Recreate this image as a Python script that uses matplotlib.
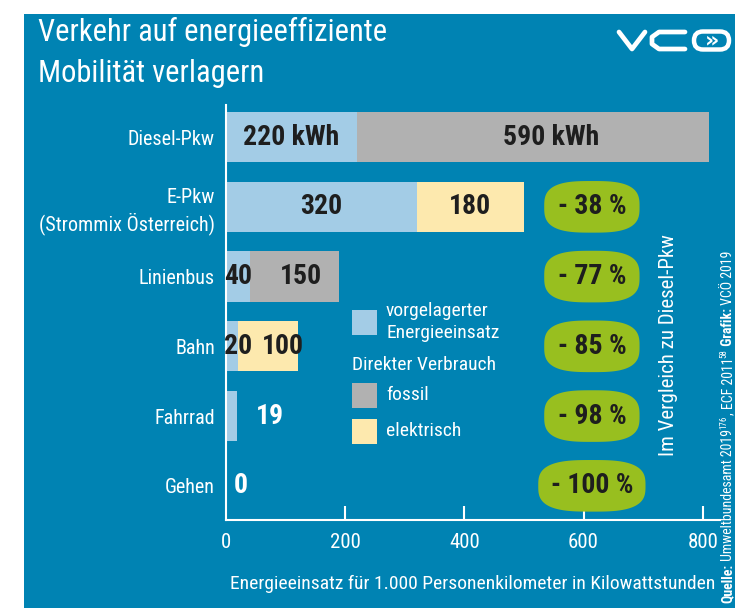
import matplotlib
matplotlib.use("Agg")
import matplotlib.pyplot as plt
from matplotlib import font_manager as fm
from matplotlib.patches import Rectangle, Polygon, FancyBboxPatch
import numpy as np

# ---------------- data ----------------
categories = ["Diesel-Pkw", "E-Pkw\n(Strommix Österreich)", "Linienbus", "Bahn", "Fahrrad", "Gehen"]
upstream = [220, 320, 40, 20, 19, 0]          # vorgelagerter Energieeinsatz
fossil = [590, 0, 150, 0, 0, 0]               # direkter Verbrauch fossil
electric = [0, 180, 0, 100, 0, 0]             # direkter Verbrauch elektrisch
upstream_labels = ["220 kWh", "320", "40", "20", "19", "0"]
fossil_labels = ["590 kWh", "", "150", "", "", ""]
electric_labels = ["", "180", "", "100", "", ""]
reduction = [None, "- 38 %", "- 77 %", "- 85 %", "- 98 %", "- 100 %"]
xticks = [0, 200, 400, 600, 800]

title = "Verkehr auf energieeffiziente\nMobilität verlagern"
xlabel = "Energieeinsatz für 1.000 Personenkilometer in Kilowattstunden"
side_label = "Im Vergleich zu Diesel-Pkw"
source_parts = [("Quelle:", "bold", False), (" Umweltbundesamt 2019", "normal", False),
                ("176", "normal", True), (", ECF 2011", "normal", False),
                ("58", "normal", True), (" Grafik:", "bold", False),
                (" VCÖ 2019", "normal", False)]

# ---------------- style ----------------
names = {f.name for f in fm.fontManager.ttflist}
font = "DejaVu Sans"
for cand in ["Liberation Sans Narrow", "DejaVu Sans Condensed", "Roboto Condensed",
             "Open Sans Condensed", "Liberation Sans"]:
    if cand in names:
        font = cand
        break
plt.rcParams['font.family'] = [font, 'DejaVu Sans']

BG = "#0083B3"
C_UP = "#A3CCE6"
C_FOS = "#B1B1B1"
C_EL = "#FDE9AE"
C_GREEN = "#98BF1F"
DARK = "#1E1E1E"
WHITE = "white"

W, H = 735, 608
fig = plt.figure(figsize=(W / 100, H / 100), dpi=100)
fig.patch.set_facecolor("white")

def fx(px):
    return px / W

def fy(py):
    return 1 - py / H

fig.add_artist(Rectangle((fx(24), 0), 1 - fx(24), fy(14), transform=fig.transFigure,
                         facecolor=BG, edgecolor="none", zorder=0))

# title
fig.text(fx(38), fy(17), title, color=WHITE, fontsize=22, va="top", ha="left",
         linespacing=1.5)

# logo (decorative), drawn in a pixel-coordinate axes
lax = fig.add_axes([fx(600), fy(62), fx(735) - fx(600), fy(20) - fy(62)])
lax.set_xlim(600, 735)
lax.set_ylim(62, 20)
lax.axis("off")
lax.plot([619, 632, 645], [32, 49, 32], color=WHITE, lw=3.4,
         solid_joinstyle="round", solid_capstyle="round")
lax.plot([685, 659, 652, 652, 659, 685], [32, 32, 37, 44, 49, 49], color=WHITE, lw=3.4,
         solid_joinstyle="round", solid_capstyle="round")
lax.add_patch(FancyBboxPatch((694, 31.5), 35, 18, boxstyle="round,pad=0,rounding_size=9",
                             facecolor="none", edgecolor=WHITE, lw=3.2))
lax.text(712, 40, "»", color=WHITE, fontsize=16, fontweight="bold",
         ha="center", va="center", family="DejaVu Sans")

# axes
ax = fig.add_axes([fx(226), fy(520), fx(720) - fx(226), fy(105) - fy(520)])
ax.set_facecolor("none")
ypos = np.arange(len(categories))
bh = 0.72
ax.barh(ypos, upstream, height=bh, color=C_UP, edgecolor="none", zorder=2)
ax.barh(ypos, fossil, left=upstream, height=bh, color=C_FOS, edgecolor="none", zorder=2)
left_el = [u + f for u, f in zip(upstream, fossil)]
ax.barh(ypos, electric, left=left_el, height=bh, color=C_EL, edgecolor="none", zorder=2)

ax.set_xlim(0, 829)
ax.set_ylim(5.49, -0.46)

lab_kw = dict(fontsize=20, fontweight="bold", va="center", zorder=4)
for i in ypos:
    u, f, e = upstream[i], fossil[i], electric[i]
    tot = u + f + e
    if u >= 100:
        ax.text(u / 2, i, upstream_labels[i], ha="center", color=DARK, **lab_kw)
    elif f > 0 or e > 0:
        ax.text(-3, i, upstream_labels[i], ha="left", color=DARK, **lab_kw)
    else:
        ax.text(tot + 55 if tot > 0 else 25, i, upstream_labels[i], ha="center",
                color=WHITE, **lab_kw)
    if f > 0:
        ax.text(u + f / 2 + (10 if f < 300 else 30), i, fossil_labels[i], ha="center",
                color=DARK, **lab_kw)
    if e > 0:
        ax.text(u + f + e / 2 + (25 if e < 150 else 0), i, electric_labels[i],
                ha="center", color=DARK, **lab_kw)

# reduction badges (superellipse)
cx = 614
t = np.linspace(0, 2 * np.pi, 200)
nexp = 3.0
for i, r in enumerate(reduction):
    if r is None:
        continue
    a = 80 if len(r) < 7 else 90
    b = 0.37
    xs = cx + a * np.sign(np.cos(t)) * np.abs(np.cos(t)) ** (2 / nexp)
    ys = i + b * np.sign(np.sin(t)) * np.abs(np.sin(t)) ** (2 / nexp)
    ax.add_patch(Polygon(np.column_stack([xs, ys]), closed=True, facecolor=C_GREEN,
                         edgecolor="none", zorder=3))
    ax.text(cx, i, r, ha="center", color=DARK, **lab_kw)

# spines / ticks
for s in ["top", "right"]:
    ax.spines[s].set_visible(False)
for s in ["left", "bottom"]:
    ax.spines[s].set_color(WHITE)
    ax.spines[s].set_linewidth(1.5)
ax.set_yticks(ypos)
ax.set_yticklabels(categories, color=WHITE, fontsize=14.5, linespacing=1.3)
ax.tick_params(axis="y", length=0, pad=8)
ax.set_xticks(xticks)
ax.set_xticklabels([str(v) for v in xticks], color=WHITE, fontsize=15)
ax.tick_params(axis="x", direction="in", length=10, width=1.5, color=WHITE, pad=9)
ax.xaxis.get_major_ticks()[0].tick1line.set_visible(False)
ax.set_xlabel(xlabel, color=WHITE, fontsize=14, labelpad=17)

# legend (manual)
leg = [(C_UP, 322, "vorgelagerter\nEnergieeinsatz"), (C_FOS, 395, "fossil"), (C_EL, 431, "elektrisch")]
for col, py, txt in leg:
    fig.add_artist(Rectangle((fx(352), fy(py + 12.5)), fx(377) - fx(352), fy(py - 12.5) - fy(py + 12.5),
                             transform=fig.transFigure, facecolor=col, edgecolor="none"))
    fig.text(fx(386), fy(py), txt, color=WHITE, fontsize=14, ha="left", va="center",
             linespacing=1.3)
fig.text(fx(352), fy(365), "Direkter Verbrauch", color=WHITE, fontsize=14, ha="left",
         va="center")

# side labels
fig.text(fx(668), fy(345), side_label, color=WHITE, fontsize=15, rotation=90,
         ha="center", va="center")

renderer = fig.canvas.get_renderer()
ypix = H - 603  # display pixels from bottom
for txt, weight, sup in source_parts:
    xpix = 728 - (4 if sup else 0)
    tt = fig.text(xpix / W, ypix / H, txt, color=WHITE, fontsize=6.5 if sup else 10,
                  fontweight=weight, rotation=90, ha="center", va="bottom")
    bb = tt.get_window_extent(renderer)
    ypix = bb.y1

fig.savefig("out.png", dpi=100, facecolor=fig.get_facecolor())
